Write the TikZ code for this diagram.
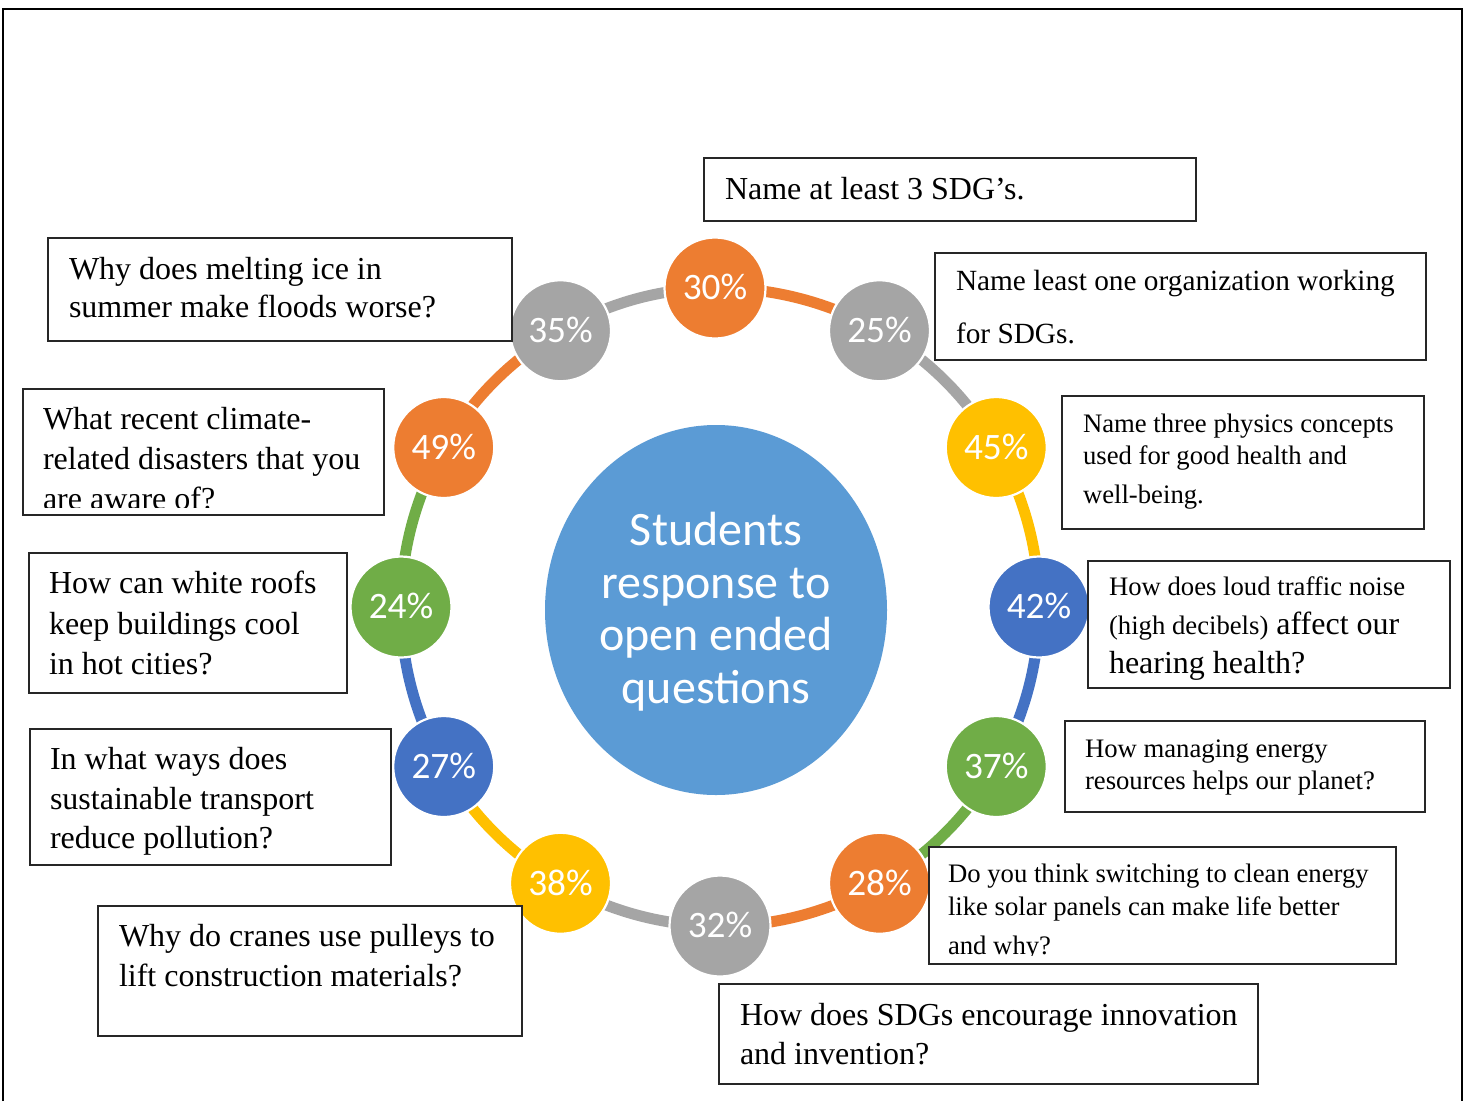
\documentclass[tikz,border=0pt]{standalone}
\usepackage{fontspec}
\setmainfont{Liberation Serif}
\newfontfamily\calibfam{Carlito}
\usetikzlibrary{calc,fit,shapes.geometric}
\pgfdeclarelayer{ring}
\pgfsetlayers{ring,main}

\definecolor{sorange}{HTML}{ED7D31}
\definecolor{sgray}{HTML}{A5A5A5}
\definecolor{syellow}{HTML}{FFC000}
\definecolor{sblue}{HTML}{4472C4}
\definecolor{sgreen}{HTML}{70AD47}
\definecolor{shub}{HTML}{5B9BD5}

\newcommand\qbig{\fontsize{32}{38}\selectfont}
\newcommand\qmid{\fontsize{29.3}{35}\selectfont}
\newcommand\qsmall{\fontsize{26.7}{32}\selectfont}
\newcommand\pctfont{\calibfam\fontsize{37.3}{44}\selectfont}
\newcommand\hubfont{\calibfam\fontsize{48}{56}\selectfont}

\begin{document}
\begin{tikzpicture}[x=1pt,y=-1pt,
  qbox/.style={draw=black!85, line width=1.4pt, fill=white, inner sep=0pt, outer sep=0pt},
  qline/.style={anchor=base west, inner sep=0pt, outer sep=0pt},
  pct/.style={circle, minimum size=101pt, inner sep=0pt, outer sep=0pt,
    draw=white, line width=2.2pt, text=white, font=\pctfont},
  ringarc/.style={line width=11pt},
  hub/.style={ellipse, fill=shub, minimum width=342pt, minimum height=370pt, inner sep=0pt},
  hubline/.style={anchor=base, inner sep=0pt, text=white, font=\hubfont},
  frame/.style={line width=2pt, draw=black}
]
\useasboundingbox (0,0) rectangle (1471,1101);

% page background and outer frame (open at the bottom)
\begin{pgfonlayer}{ring}
  \fill[white] (0,0) rectangle (1471,1101);
\end{pgfonlayer}
\draw[frame] (3,1101) -- (3,9) -- (1462,9) -- (1462,1101);

% central topic
\node[hub] (hub) at (716,610) {};
\node[hubline] (h1) at (716,545) {Students};
\node[hubline] (h2) at (716,598) {response to};
\node[hubline] (h3) at (716,650) {open ended};
\node[hubline] (h4) at (716,703) {questions};

% ring of percentages, clockwise from the top
\coordinate (ring) at (720,607);
\foreach \k/\v/\c/\dx in {0/30/sorange/-5,1/25/sgray/0,2/45/syellow/0,3/42/sblue/0,
                          4/37/sgreen/0,5/28/sorange/0,6/32/sgray/0,7/38/syellow/0,
                          8/27/sblue/0,9/24/sgreen/0,10/49/sorange/0,11/35/sgray/0}
  \node[pct, fill=\c] (p\k) at ($(ring)+({-90+30*\k}:319)+(\dx,0)$) {\raisebox{2pt}{\v\%}};

% arcs joining neighbouring circles, coloured like the circle they leave
\begin{pgfonlayer}{ring}
\foreach \k/\c in {0/sorange,1/sgray,2/syellow,3/sblue,4/sgreen,5/sorange,
                   6/sgray,7/syellow,8/sblue,9/sgreen,10/sorange,11/sgray} {
  \pgfmathtruncatemacro\nx{mod(\k+1,12)}
  \draw[ringarc, draw=\c] (p\k.center) to[bend left=15, looseness=0.87] (p\nx.center);
}
\end{pgfonlayer}

% question boxes
\node[qbox, fit={(704,158) (1196,221)}] (qL) {};
\node[qline, font=\qbig] (l1) at (725,199) {Name at least 3 SDG’s.};

\node[qbox, fit={(935,253) (1426,360)}] (qK) {};
\node[qline, font=\qmid] (k1) at (956,290) {Name least one organization working};
\node[qline, font=\qmid] (k2) at (956,343) {for SDGs.};

\node[qbox, fit={(1062,396) (1424,529)}] (qJ) {};
\node[qline, font=\qsmall] (j1) at (1083,432) {Name three physics concepts};
\node[qline, font=\qsmall] (j2) at (1083,464) {used for good health and};
\node[qline, font=\qsmall] (j3) at (1083,503) {well-being.};

\node[qbox, fit={(1088,561) (1450,688)}] (qI) {};
\node[qline, font=\qsmall] (i1) at (1109,595) {How does loud traffic noise};
\node[qline, font=\qsmall] (i2) at (1109,634) {(high decibels){\qbig\ affect our}};
\node[qline, font=\qbig] (i3) at (1109,673) {hearing health?};

\node[qbox, fit={(1065,721) (1425,812)}] (qH) {};
\node[qline, font=\qsmall] (hh1) at (1085,757) {How managing energy};
\node[qline, font=\qsmall] (hh2) at (1085,789) {resources helps our planet?};

\node[qbox, fit={(929,847) (1396,964)}] (qG) {};
\node[qline, font=\qsmall] (g1) at (948,882) {Do you think switching to clean energy};
\node[qline, font=\qsmall] (g2) at (948,915) {like solar panels can make life better};
\begin{scope}
  \clip (929,930) rectangle (1396,955);
  \node[qline, font=\qsmall] (g3) at (948,954) {and why?};
\end{scope}

\node[qbox, fit={(719,984) (1258,1084)}] (qF) {};
\node[qline, font=\qbig] (f1) at (740,1025) {How does SDGs encourage innovation};
\node[qline, font=\qbig] (f2) at (740,1064) {and invention?};

\node[qbox, fit={(98,906) (522,1036)}] (qE) {};
\node[qline, font=\qbig] (e1) at (119,946) {Why do cranes use pulleys to};
\node[qline, font=\qbig] (e2) at (119,986) {lift construction materials?};

\node[qbox, fit={(30,729) (391,865)}] (qD) {};
\node[qline, font=\qbig] (d1) at (50,769) {In what ways does};
\node[qline, font=\qbig] (d2) at (50,809) {sustainable transport};
\node[qline, font=\qbig] (d3) at (50,848) {reduce pollution?};

\node[qbox, fit={(29,553) (347,693)}] (qC) {};
\node[qline, font=\qbig] (c1) at (49,593) {How can white roofs};
\node[qline, font=\qbig] (c2) at (49,634) {keep buildings cool};
\node[qline, font=\qbig] (c3) at (49,674) {in hot cities?};

\node[qbox, fit={(23,389) (384,515)}] (qB) {};
\node[qline, font=\qbig] (b1) at (43,429) {What recent climate-};
\node[qline, font=\qbig] (b2) at (43,469) {related disasters that you};
\begin{scope}
  \clip (23,475) rectangle (384,507);
  \node[qline, font=\qbig] (b3) at (43,509) {are aware of?};
\end{scope}

\node[qbox, fit={(48,238) (512,341)}] (qA) {};
\node[qline, font=\qbig] (a1) at (69,279) {Why does melting ice in};
\node[qline, font=\qbig] (a2) at (69,317) {summer make floods worse?};

\end{tikzpicture}
\end{document}
